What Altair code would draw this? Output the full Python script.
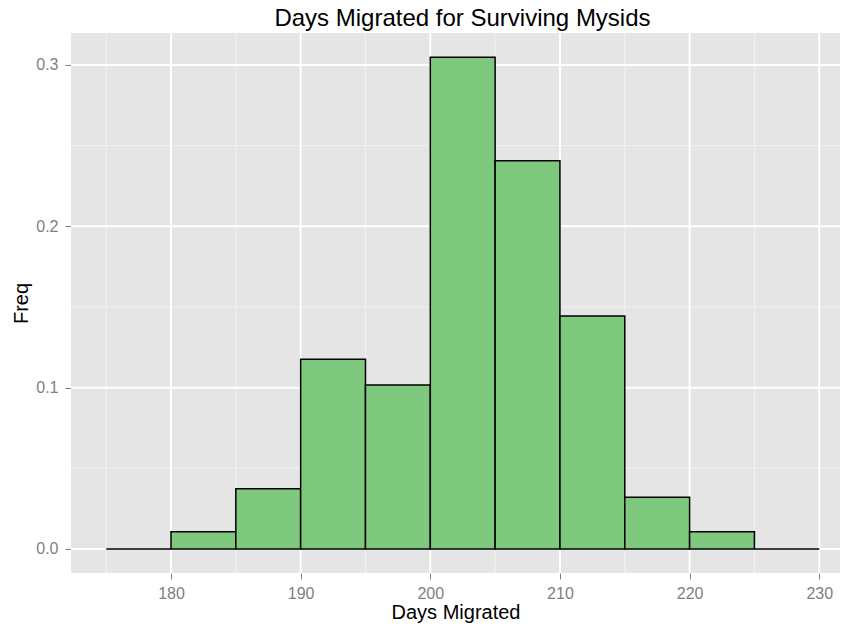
import altair as alt
import pandas as pd

# Histogram data (bin edges and relative frequency)
bin_start = [175, 180, 185, 190, 195, 200, 205, 210, 215, 220, 225]
bin_end = [180, 185, 190, 195, 200, 205, 210, 215, 220, 225, 230]
freq = [0.0, 0.0107, 0.0374, 0.1176, 0.1016, 0.3048, 0.2406, 0.1444, 0.0321, 0.0107, 0.0]

x_major = [180, 190, 200, 210, 220, 230]
x_minor = [175, 185, 195, 205, 215, 225]
y_major = [0.0, 0.1, 0.2, 0.3]
y_minor = [0.05, 0.15, 0.25]

bars = pd.DataFrame({"start": bin_start, "end": bin_end, "freq": freq,
                     "zero": [0.0] * len(freq)})

FONT = "Liberation Sans"
xscale = alt.Scale(domain=[172.287, 231.6], nice=False, zero=False)
yscale = alt.Scale(domain=[-0.01488, 0.31983], nice=False, zero=False)

xaxis = alt.Axis(values=x_major, grid=False, domain=False, format="d",
                 tickSize=6, tickColor="#7F7F7F", tickWidth=1,
                 labelPadding=6, labelFontSize=16, labelColor="#7F7F7F",
                 labelFont=FONT, title="Days Migrated", titleFont=FONT,
                 titleFontSize=20, titleFontWeight="normal", titleColor="#000000",
                 titlePadding=1)
yaxis = alt.Axis(values=y_major, grid=False, domain=False, format=".1f",
                 tickSize=6, tickColor="#7F7F7F", tickWidth=1,
                 labelPadding=7, labelFontSize=16, labelColor="#7F7F7F",
                 labelFont=FONT, title="Freq", titleFont=FONT,
                 titleFontSize=20, titleFontWeight="normal", titleColor="#000000",
                 titlePadding=4)

minor_x = alt.Chart(pd.DataFrame({"v": x_minor})).mark_rule(
    color="#F2F2F2", strokeWidth=1).encode(x=alt.X("v:Q", scale=xscale, axis=xaxis))
minor_y = alt.Chart(pd.DataFrame({"v": y_minor})).mark_rule(
    color="#F2F2F2", strokeWidth=1).encode(y=alt.Y("v:Q", scale=yscale, axis=yaxis))
major_x = alt.Chart(pd.DataFrame({"v": x_major})).mark_rule(
    color="#FFFFFF", strokeWidth=2).encode(x=alt.X("v:Q", scale=xscale, axis=xaxis))
major_y = alt.Chart(pd.DataFrame({"v": y_major})).mark_rule(
    color="#FFFFFF", strokeWidth=2).encode(y=alt.Y("v:Q", scale=yscale, axis=yaxis))

hist = alt.Chart(bars).mark_rect(fill="#7FC97F", stroke="#000000", strokeWidth=1.5).encode(
    x=alt.X("start:Q", scale=xscale, axis=xaxis),
    x2="end:Q",
    y=alt.Y("freq:Q", scale=yscale, axis=yaxis),
    y2="zero:Q",
)

chart = alt.layer(minor_x, minor_y, major_x, major_y, hist).properties(
    width=769,
    height=540,
    padding={"left": 63, "top": 25, "right": 0, "bottom": 51},
    autosize=alt.AutoSizeParams(type="none"),
    title=alt.TitleParams("Days Migrated for Surviving Mysids", font=FONT,
                          fontSize=24, fontWeight="normal", color="#000000",
                          anchor="middle", offset=1, dx=7),
).configure_view(fill="#E5E5E5", strokeWidth=0)

chart.save("out.html", embed_options={"renderer": "svg", "actions": False})
